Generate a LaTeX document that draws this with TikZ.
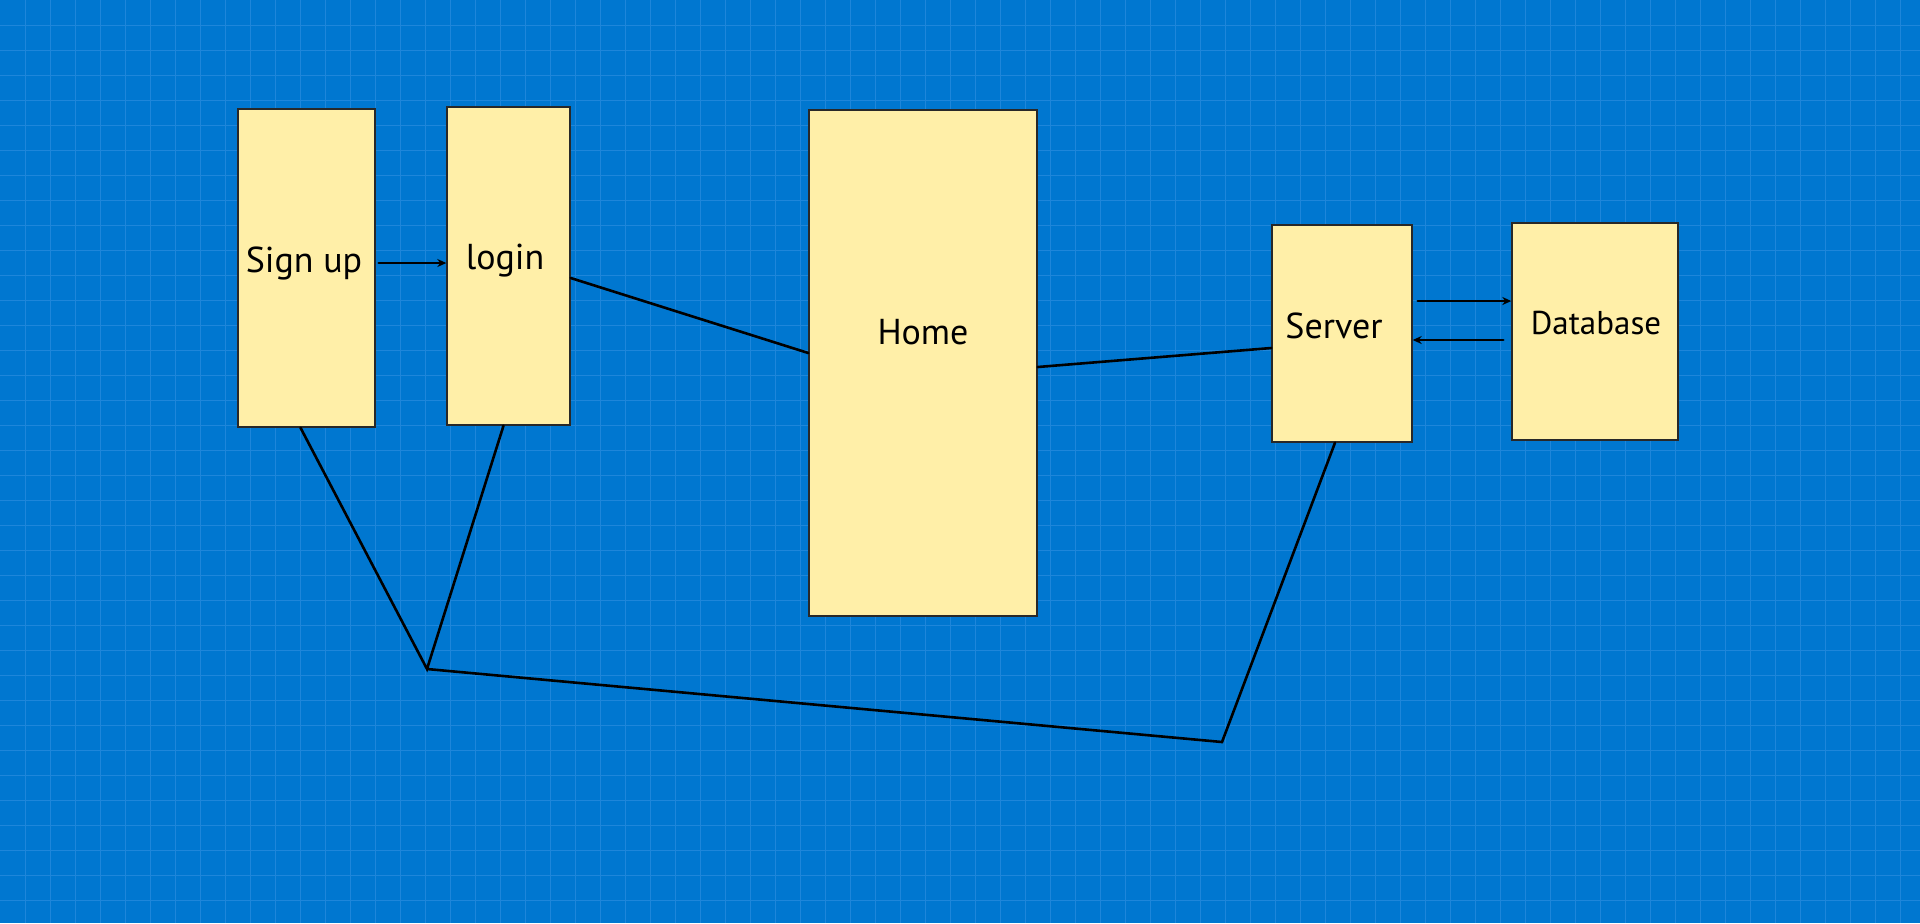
\documentclass[tikz,border=0pt]{standalone}
\usepackage{fontspec}
\setmainfont{PT Sans}
\usepackage{tikz}
\usetikzlibrary{calc}
\usetikzlibrary{arrows.meta}
\definecolor{bgblue}{RGB}{0,119,208}
\definecolor{gridblue}{RGB}{30,134,218}
\definecolor{boxfill}{RGB}{255,239,168}
\definecolor{boxline}{RGB}{40,40,40}
\tikzset{block/.style={rectangle, draw=boxline, line width=.7pt, fill=boxfill, inner sep=0pt}}
\tikzset{lab/.style={font=\fontsize{18}{21}\selectfont, text=black, inner sep=0pt}}
\tikzset{link/.style={draw=black, line width=1.3pt, line cap=round, line join=miter}}
\tikzset{flow/.style={link, -{Stealth[length=4.5pt,width=4pt]}}}

\begin{document}
\begin{tikzpicture}[x=0.5pt,y=-0.5pt]
  \useasboundingbox (0,0) rectangle (1920,923);
  \fill[bgblue] (0,0) rectangle (1920,923);
  % grid
  \foreach \x in {25,50,...,1900} {
    \draw[gridblue, line width=.5pt] (\x,0) -- (\x,923);
  }
  \foreach \y in {25,50,...,900} {
    \draw[gridblue, line width=.5pt] (0,\y) -- (1920,\y);
  }
  % blocks
  \foreach \x/\y/\w/\h/\lab in {
    306.5/268/68.5pt/159pt/signup,
    508.5/266/61.5pt/159pt/login,
    923/363/114pt/253pt/home,
    1342/333.5/70pt/108.5pt/server,
    1595/331.5/83pt/108.5pt/database%
  } {
    \node[block, minimum width=\w, minimum height=\h] (\lab) at (\x, \y) {};
  }
  % texts
  \node[lab] (signup-lab) at (304,263) {Sign up};
  \node[lab] (login-lab) at (505,261) {login};
  \node[lab] (home-lab) at (923,332) {Home};
  \node[lab] (server-lab) at (1334,326) {Server};
  \node[lab, font=\fontsize{16.5}{19}\selectfont] (database-lab) at (1596,323) {Database};
  % connectors
  \coordinate (junc) at (427,669);
  \coordinate (turn) at (1222,742);
  \draw[flow] ($(signup.east)+(3,-5)$) -- ($(login.west)+(0,-3)$);
  \draw[link] ($(login.east)+(0,12)$) -- ($(home.west)+(0,-10)$);
  \draw[link] ($(home.east)+(0,4)$) -- ($(server.west)+(0,14.5)$);
  \draw[flow] ($(server.east)+(5,-32.5)$) -- ($(database.west)+(0,-30.5)$);
  \draw[flow] ($(database.west)+(-8,8.5)$) -- ($(server.east)+(0,6.5)$);
  \draw[link] ($(signup.south)+(-6,0)$) -- (junc) -- ($(login.south)+(-5,0)$);
  \draw[link] (junc) -- (turn) -- ($(server.south)+(-7,0)$);
\end{tikzpicture}
\end{document}
